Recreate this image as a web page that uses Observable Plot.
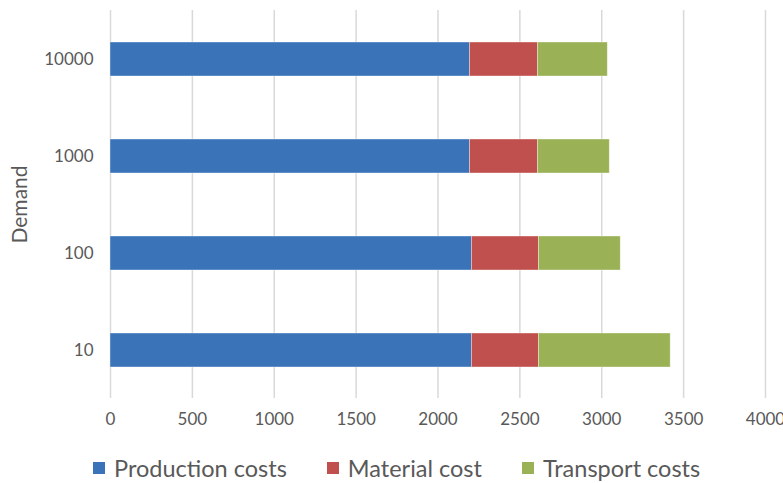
<!DOCTYPE html>
<html>
<head>
<meta charset="utf-8">
<script src="https://cdn.jsdelivr.net/npm/d3@7"></script>
<script src="https://cdn.jsdelivr.net/npm/@observablehq/plot@0.6"></script>
<style>
  html, body { margin: 0; padding: 0; background: #fff; }
  #chart { width: 783px; }
  .legend { display: flex; justify-content: flex-start; align-items: center; height: 38px; padding-left: 93px; padding-top: 4px; font-family: Lato, "Open Sans", sans-serif; font-size: 23.5px; color: #595959; }
  .legend .item { display: flex; align-items: center; margin-right: 40px; }
  .legend .sw { width: 12px; height: 12px; margin-right: 9px; }
</style>
</head>
<body>
<div id="chart"></div>
<script>
const demand = ["10000", "1000", "100", "10"];
const seriesNames = ["Production costs", "Material cost", "Transport costs"];
const production = [2195, 2195, 2207, 2207];
const material = [415, 415, 409, 409];
const transport = [427, 439, 500, 805];
const xTicks = [0, 500, 1000, 1500, 2000, 2500, 3000, 3500, 4000];
const colors = ["#3a73b8", "#c0504d", "#9bb155"];

const values = [production, material, transport];
const rows = [];
demand.forEach((d, i) => {
  seriesNames.forEach((s, j) => rows.push({demand: d, series: s, value: values[j][i]}));
});

const plot = Plot.plot({
  width: 783,
  height: 445,
  marginLeft: 110,
  marginRight: 18,
  marginTop: 10,
  marginBottom: 47,
  style: {fontFamily: "Lato, 'Open Sans', sans-serif", fontSize: "17px", color: "#595959", background: "#fff"},
  x: {domain: [0, 4000], ticks: xTicks, tickSize: 0, tickPadding: 14, label: null, tickFormat: d => String(d)},
  y: {domain: demand, paddingInner: 0.65, paddingOuter: 0.325, tickSize: 0, tickPadding: 17, label: null},
  color: {domain: seriesNames, range: colors},
  marks: [
    Plot.ruleX(xTicks, {stroke: "#d9d9d9", strokeWidth: 1.5}),
    Plot.barX(rows, {x: "value", y: "demand", fill: "series", order: seriesNames, stroke: "#ffffff", strokeOpacity: 0.5, strokeWidth: 0.75}),
    Plot.axisY({tickSize: 0, tickPadding: 17, label: "Demand", labelAnchor: "center", labelArrow: "none", labelOffset: 98, fontSize: 17}),
  ]
});
plot.querySelectorAll("[aria-label='y-axis label'] text").forEach(t => t.setAttribute("font-size", "21"));
document.getElementById("chart").appendChild(plot);

const legend = document.createElement("div");
legend.className = "legend";
seriesNames.forEach((s, j) => {
  const it = document.createElement("div");
  it.className = "item";
  const sw = document.createElement("span");
  sw.className = "sw";
  sw.style.background = colors[j];
  const t = document.createElement("span");
  t.textContent = s;
  it.appendChild(sw); it.appendChild(t);
  legend.appendChild(it);
});
document.getElementById("chart").appendChild(legend);
</script>
</body>
</html>
